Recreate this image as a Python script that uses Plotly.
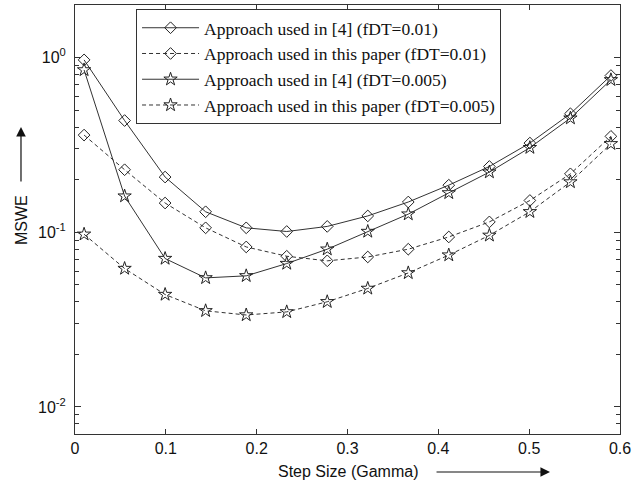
import plotly.graph_objects as go

# Step size values (x)
gamma = [0.01, 0.0546, 0.0992, 0.1438, 0.1885, 0.2331, 0.2777,
         0.3223, 0.3669, 0.4115, 0.4562, 0.5008, 0.5454, 0.59]

# MSWE values per series
ref4_001 = [0.97, 0.436, 0.207, 0.131, 0.106, 0.101, 0.108,
            0.124, 0.149, 0.186, 0.238, 0.324, 0.477, 0.789]
paper_001 = [0.36, 0.228, 0.147, 0.106, 0.0824, 0.0729, 0.0686,
             0.0722, 0.080, 0.094, 0.1146, 0.152, 0.216, 0.354]
ref4_0005 = [0.85, 0.161, 0.0707, 0.0548, 0.0563, 0.0662, 0.080,
             0.101, 0.127, 0.168, 0.221, 0.305, 0.45, 0.746]
paper_0005 = [0.0974, 0.062, 0.044, 0.0355, 0.0336, 0.035, 0.040,
              0.0477, 0.0585, 0.074, 0.096, 0.131, 0.194, 0.321]

names = ["Approach used in [4] (fDT=0.01)",
         "Approach used in this paper (fDT=0.01)",
         "Approach used in [4] (fDT=0.005)",
         "Approach used in this paper (fDT=0.005)"]

y_tickvals = [0.01, 0.1, 1]
y_ticktext = ["10<sup>-2</sup>", "10<sup>-1</sup>", "10<sup>0</sup>"]
y_minor = [0.007, 0.008, 0.009, 0.02, 0.03, 0.04, 0.05, 0.06, 0.07, 0.08, 0.09,
           0.2, 0.3, 0.4, 0.5, 0.6, 0.7, 0.8, 0.9]

series = [
    (ref4_001, "solid", "diamond-open", 9),
    (paper_001, "dash", "diamond-open", 9),
    (ref4_0005, "solid", "star-open", 10),
    (paper_0005, "dash", "star-open", 10),
]

fig = go.Figure()
for (vals, dash, sym, sz), nm in zip(series, names):
    fig.add_trace(go.Scatter(
        x=gamma, y=vals, name=nm, mode="lines+markers",
        line=dict(color="#333333", width=1, dash="4px,3px" if dash == "dash" else "solid"),
        marker=dict(symbol=sym, size=sz, color="#222222",
                    line=dict(color="#222222", width=1)),
    ))

sans = "Liberation Sans, Arial, sans-serif"

fig.update_layout(
    width=644, height=483,
    margin=dict(l=75, r=24, t=5, b=49),
    paper_bgcolor="white", plot_bgcolor="white",
    showlegend=True,
    legend=dict(
        x=0.112, y=0.991, xanchor="left", yanchor="top",
        bgcolor="white", bordercolor="#333333", borderwidth=1,
        font=dict(family="Liberation Serif, Times New Roman, serif", size=17.5, color="#111111"),
        itemwidth=57,
    ),
    xaxis=dict(
        range=[0, 0.6], dtick=0.1, tick0=0,
        ticks="inside", ticklen=5, tickcolor="#333333",
        showline=True, linecolor="#333333", linewidth=1, mirror="ticks",
        showgrid=False, zeroline=False,
        tickfont=dict(family=sans, size=16, color="#111111"),
    ),
    yaxis=dict(
        type="log", range=[-2.155, 0.301],
        tickmode="array", tickvals=y_tickvals, ticktext=y_ticktext,
        ticks="inside", ticklen=6, tickcolor="#333333",
        showline=True, linecolor="#333333", linewidth=1, mirror="ticks",
        showgrid=False, zeroline=False,
        ticklabelstandoff=5,
        tickfont=dict(family=sans, size=16, color="#111111"),
        minor=dict(tickmode="array", tickvals=y_minor, ticks="inside",
                   ticklen=4, tickcolor="#333333", showgrid=False),
    ),
    annotations=[
        dict(text="Step Size (Gamma)", xref="paper", yref="paper",
             x=0.5, y=-0.0866, xanchor="center", yanchor="middle",
             showarrow=False, borderpad=0,
             font=dict(family=sans, size=16, color="#111111")),
        dict(text="MSWE", xref="paper", yref="paper",
             x=-0.0991, y=0.4988, xanchor="center", yanchor="middle", textangle=-90,
             showarrow=False, font=dict(family=sans, size=16, color="#111111")),
        dict(text="", xref="paper", yref="paper",
             x=0.8716, y=-0.0886, ax=-115, ay=0, axref="pixel", ayref="pixel",
             showarrow=True, arrowhead=2, arrowsize=1.6, arrowwidth=1.2,
             arrowcolor="#111111"),
        dict(text="", xref="paper", yref="paper",
             x=-0.0991, y=0.7156, ax=0, ay=56, axref="pixel", ayref="pixel",
             showarrow=True, arrowhead=2, arrowsize=1.6, arrowwidth=1.2,
             arrowcolor="#111111"),
    ],
)

fig.write_html("out.html",
               config={"displayModeBar": False},
               post_script="document.body.style.margin='0px';document.body.style.padding='0px';")
